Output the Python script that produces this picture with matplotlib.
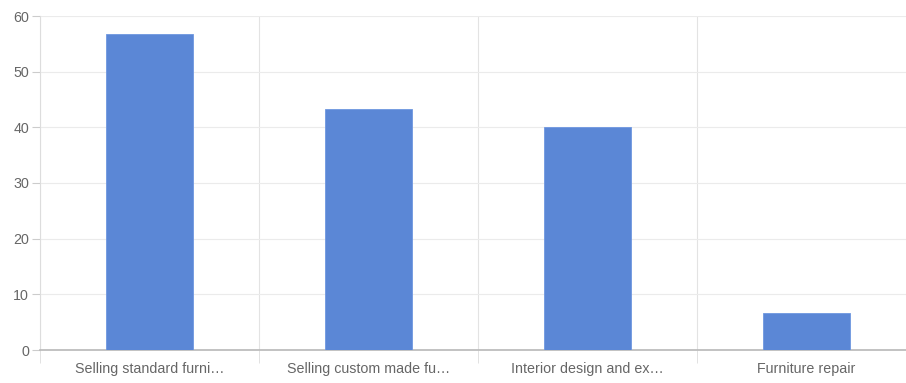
import matplotlib.pyplot as plt
import numpy as np

plt.rcParams["font.family"] = ["Liberation Sans", "DejaVu Sans"]

categories = ["Selling standard furni…", "Selling custom made fu…",
              "Interior design and ex…", "Furniture repair"]
values = [56.7, 43.3, 40.0, 6.7]
y_ticks = [0, 10, 20, 30, 40, 50, 60]

W, H = 906, 383
fig = plt.figure(figsize=(W / 100, H / 100), dpi=100)
# plot area: x 40 -> 916 (runs past the right edge), y 16 -> 350
ax = fig.add_axes([40 / W, (H - 350) / H, 876 / W, 334 / H])

x = np.arange(len(categories))
ax.bar(x, values, width=0.4, color="#5b87d6", edgecolor="#6f97e0", linewidth=0.6, zorder=3)

ax.set_xlim(-0.5, len(categories) - 0.5)
ax.set_ylim(0, 60)
ax.set_yticks(y_ticks)
ax.set_xticks(x)
ax.set_xticklabels(categories)
ax.set_xticks(np.arange(len(categories)) - 0.5, minor=True)

ax.grid(axis="y", color="#ebebeb", linewidth=0.8, zorder=0)
ax.grid(axis="x", which="minor", color="#e3e3e3", linewidth=0.8, zorder=0)
ax.grid(axis="x", which="major", visible=False)

for side in ["top", "right"]:
    ax.spines[side].set_visible(False)
ax.spines["left"].set_color("#dddddd")
ax.spines["bottom"].set_color("#b8b8b8")
ax.spines["bottom"].set_linewidth(1.2)

ax.tick_params(axis="y", length=6, color="#cccccc", labelcolor="#666666", labelsize=10.3, pad=2)
ax.tick_params(axis="x", which="major", length=0, labelcolor="#666666", labelsize=10.3, pad=9)
ax.tick_params(axis="x", which="minor", length=9, color="#dddddd")

fig.savefig("out.png", dpi=100)
